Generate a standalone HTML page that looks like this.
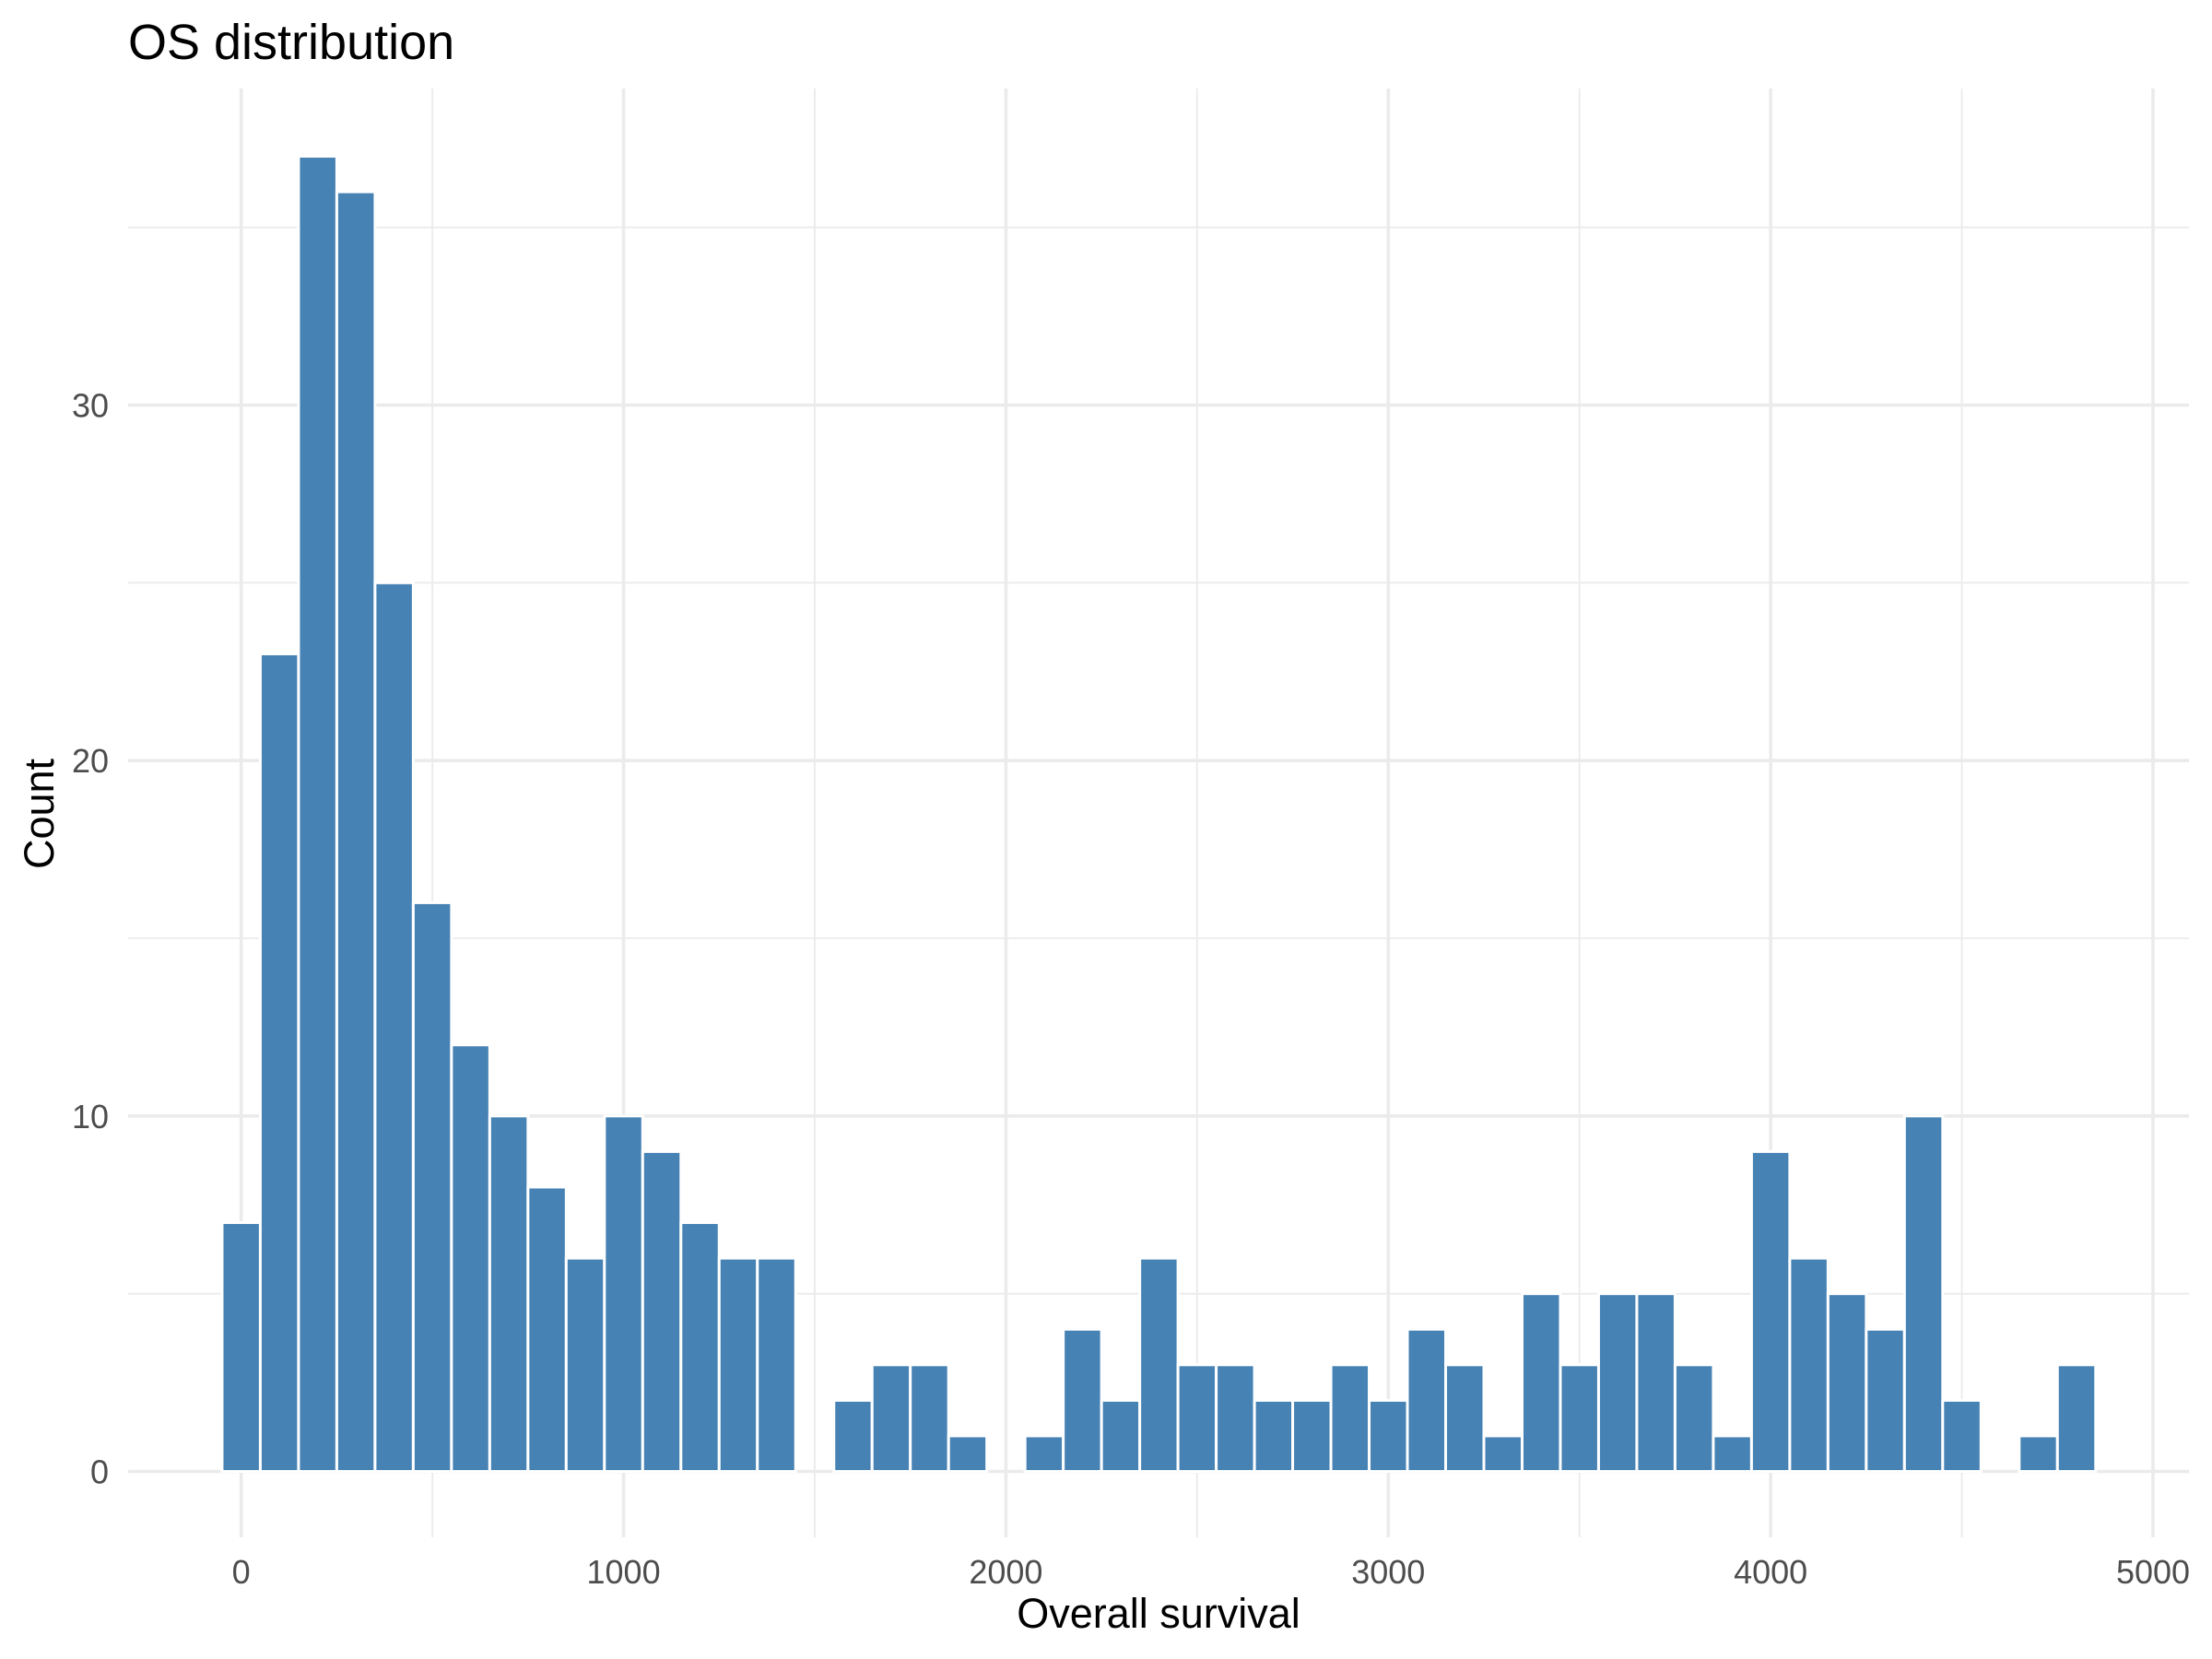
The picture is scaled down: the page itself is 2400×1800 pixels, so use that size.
<!DOCTYPE html>
<html><head><meta charset="utf-8"><style>
html,body{margin:0;padding:0;background:#fff}
svg{display:block;font-family:"Liberation Sans",Arial,sans-serif}
</style></head><body>
<svg id="chart" width="2400" height="1800" viewBox="0 0 2400 1800" xmlns="http://www.w3.org/2000/svg">
<text x="139" y="64" font-size="54" fill="#000">OS distribution</text>
<g id="grid"></g>
<g id="bars"></g>
<g id="xticks"></g>
<g id="yticks"></g>
<text x="1257" y="1766" font-size="45" text-anchor="middle" fill="#000">Overall survival</text>
<text x="0" y="0" font-size="45" text-anchor="middle" fill="#000" transform="translate(58,883) rotate(-90)">Count</text>
</svg>
<script>
const binCenters = [0,100,200,300,400,500,600,700,800,900,1000,1100,1200,1300,1400,1500,1600,1700,1800,1900,2000,2100,2200,2300,2400,2500,2600,2700,2800,2900,3000,3100,3200,3300,3400,3500,3600,3700,3800,3900,4000,4100,4200,4300,4400,4500,4600,4700,4800];
const counts = [7,23,37,36,25,16,12,10,8,6,10,9,7,6,6,0,2,3,3,1,0,1,4,2,6,3,3,2,2,3,2,4,3,1,5,3,5,5,3,1,9,6,5,4,10,2,0,1,3];
const xTicks = [0,1000,2000,3000,4000,5000];
const xMinor = [500,1500,2500,3500,4500];
const yTicks = [0,10,20,30];
const yMinor = [5,15,25,35];
const binWidth = 100;

const NS="http://www.w3.org/2000/svg";
const X0=261.7, X5000=2336, Y0=1596.5, Y30=439.5;
const px = v => X0 + (X5000-X0)*v/5000;
const py = v => Y0 - (Y0-Y30)*v/30;
const PL=139, PR=2375, PT=96, PB=1668;
function mk(tag, attrs, parent){const e=document.createElementNS(NS,tag);for(const k in attrs)e.setAttribute(k,attrs[k]);parent.appendChild(e);return e;}
const grid=document.getElementById('grid');
xMinor.forEach(v=>{const l=mk('line',{x1:px(v),x2:px(v),y1:PT,y2:PB,stroke:'#ebebeb','stroke-width':1.8},grid);

});
yMinor.forEach(v=>{const l=mk('line',{x1:PL,x2:PR,y1:py(v),y2:py(v),stroke:'#ebebeb','stroke-width':1.8},grid);

});
xTicks.forEach(v=>{const l=mk('line',{x1:px(v),x2:px(v),y1:PT,y2:PB,stroke:'#ebebeb','stroke-width':3.6},grid);

});
yTicks.forEach(v=>{const l=mk('line',{x1:PL,x2:PR,y1:py(v),y2:py(v),stroke:'#ebebeb','stroke-width':3.6},grid);

});
const bars=document.getElementById('bars');
binCenters.forEach((c,i)=>{
  const x1=px(c-binWidth/2), x2=px(c+binWidth/2);
  const y=py(counts[i]);
  const r=mk('rect',{x:x1,y:y,width:x2-x1,height:Math.max(0,Y0-y),fill:'#4682b4',stroke:'#ffffff','stroke-width':3},bars);
  
  
});
const xt=document.getElementById('xticks');
xTicks.forEach(v=>{const t=mk('text',{x:px(v),y:1718,'font-size':36,'text-anchor':'middle',fill:'#4d4d4d'},xt);t.textContent=v;

});
const yt=document.getElementById('yticks');
yTicks.forEach(v=>{const t=mk('text',{x:118,y:py(v)+13,'font-size':36,'text-anchor':'end',fill:'#4d4d4d'},yt);t.textContent=v;

});
</script>
</body></html>
